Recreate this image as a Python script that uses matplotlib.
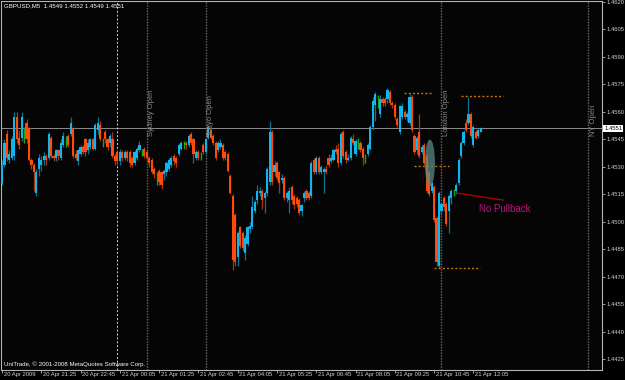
import numpy as np
import matplotlib.pyplot as plt
from matplotlib.patches import Ellipse

BASE = 1.4400
PIP = 0.0001

# GBPUSD M5 bars, values in pips above 1.4400
opens = [121, 131, 148, 134, 135, 136, 157, 146, 146, 146, 154, 151, 134, 131, 116, 129, 131, 134, 136, 135,
         146, 136, 135, 139, 135, 142, 144, 147, 148, 151, 137, 133, 137, 141, 145, 139, 141, 145, 140,
         150, 153, 143, 149, 145, 143, 145, 136, 138, 133, 138, 135, 138, 138, 135, 132, 135, 139, 138, 140,
         138, 135, 134, 129, 124, 128, 127, 126, 127, 129, 131, 136, 135, 137, 140, 142, 143, 142, 148, 145,
         135, 138,
         136, 142, 138, 146, 150, 147, 143, 139, 141, 142, 138, 137, 125, 114, 104, 81, 97, 94, 83, 88,
         96, 97, 106, 112, 116, 117, 113, 116, 122, 149, 127, 132, 127, 123, 124, 113, 112, 119, 114, 113,
         112,
         106, 113, 117, 116, 114, 134, 127, 135, 127, 127, 129, 135, 133, 134, 140, 140, 132, 149, 138, 134,
         135, 145, 137, 143, 143, 140, 134, 137, 140, 152, 164, 165, 159, 167, 167, 167, 171, 165, 164, 156,
         149, 157, 160,
         157, 154, 168, 147, 139, 149, 138, 142, 136, 127, 117, 119, 102, 76, 106, 113, 110, 106, 113, 116,
         117, 121, 136, 143, 154, 154, 159, 142, 149, 147, 149]
highs = [134, 145, 150, 139, 147, 160, 160, 150, 160, 152, 156, 152, 135, 132, 129, 137, 136, 138, 137, 149,
         147, 137, 140, 140, 145, 149, 147, 148, 157, 152, 139, 140, 142, 142, 146, 145, 146, 146, 154,
         157, 155, 146, 150, 146, 148, 149, 137, 139, 140, 139, 139, 139, 139, 136, 139, 141, 144, 140, 141,
         139, 136, 135, 130, 127, 129, 128, 129, 133, 135, 136, 137, 136, 143, 144, 144, 144, 148, 149, 146,
         139, 139,
         138, 143, 146, 153, 153, 148, 144, 144, 145, 143, 139, 138, 126, 115, 105, 95, 98, 95, 93, 98,
         100, 114, 112, 120, 119, 118, 117, 130, 155, 150, 133, 133, 128, 126, 125, 117, 119, 120, 115, 114,
         113,
         110, 117, 118, 117, 133, 135, 136, 136, 131, 130, 131, 137, 137, 140, 142, 143, 149, 150, 139, 137,
         147, 148, 145, 146, 144, 141, 137, 143, 153, 168, 171, 169, 169, 168, 168, 173, 172, 166, 165, 157,
         164, 165, 161,
         160, 170, 169, 148, 147, 159, 142, 143, 137, 128, 122, 120, 103, 117, 111, 114, 111, 115, 118, 118,
         121, 135, 144, 150, 156, 168, 160, 153, 150, 151, 152]
lows = [120, 130, 133, 132, 134, 134, 143, 140, 144, 143, 143, 133, 129, 117, 114, 125, 128, 131, 131, 134,
        135, 133, 133, 134, 134, 141, 141, 141, 147, 135, 134, 131, 136, 137, 136, 137, 140, 139, 139,
        148, 144, 141, 143, 139, 141, 135, 131, 131, 131, 133, 134, 133, 130, 130, 131, 134, 138, 136, 135,
        134, 130, 126, 124, 120, 120, 118, 123, 125, 128, 130, 131, 130, 136, 139, 140, 140, 141, 142, 132,
        134, 134,
        134, 137, 137, 145, 145, 142, 134, 138, 140, 134, 134, 127, 115, 74, 76, 76, 86, 84, 79, 87,
        94, 96, 105, 110, 114, 107, 105, 114, 120, 120, 125, 123, 116, 121, 112, 111, 105, 110, 107, 108,
        104,
        103, 111, 112, 112, 113, 126, 126, 126, 126, 116, 126, 130, 132, 133, 137, 130, 131, 135, 132, 133,
        134, 142, 136, 140, 138, 131, 132, 136, 139, 150, 155, 162, 157, 163, 163, 165, 164, 162, 156, 152,
        148, 156, 156,
        155, 153, 149, 137, 137, 135, 137, 131, 116, 114, 116, 100, 76, 75, 104, 106, 98, 94, 110, 114,
        115, 120, 135, 142, 149, 153, 146, 141, 145, 146, 149]
closes = [131, 143, 135, 137, 145, 157, 145, 142, 157, 146, 145, 134, 131, 127, 127, 135, 134, 136, 134, 148,
          136, 135, 139, 136, 143, 147, 144, 142, 154, 136, 135, 139, 141, 138, 138, 143, 145, 140, 153,
          154, 145, 143, 145, 141, 147, 136, 133, 133, 138, 135, 138, 135, 132, 131, 138, 140, 142, 138, 136,
          135, 132, 127, 126, 124, 122, 120, 128, 132, 134, 135, 133, 132, 142, 143, 142, 142, 147, 143, 137,
          138, 135,
          136, 138, 145, 152, 146, 143, 135, 143, 143, 135, 135, 128, 116, 79, 78, 94, 87, 86, 91, 97,
          98, 108, 111, 117, 117, 112, 116, 129, 149, 122, 131, 124, 121, 124, 113, 116, 117, 112, 109, 110,
          105,
          109, 116, 113, 113, 132, 127, 135, 127, 130, 129, 127, 131, 135, 139, 138, 132, 148, 136, 134, 135,
          146, 143, 144, 143, 139, 135, 134, 142, 152, 166, 170, 165, 167, 165, 165, 172, 165, 164, 157, 153,
          163, 163, 157,
          159, 168, 150, 138, 146, 136, 141, 132, 117, 115, 121, 101, 78, 116, 110, 108, 99, 114, 117, 116,
          120, 134, 143, 149, 150, 159, 147, 152, 146, 150, 151]

time_labels = ["20 Apr 2009", "20 Apr 21:25", "20 Apr 22:45", "21 Apr 00:05", "21 Apr 01:25",
               "21 Apr 02:45", "21 Apr 04:05", "21 Apr 05:25", "21 Apr 06:45", "21 Apr 08:05",
               "21 Apr 09:25", "21 Apr 10:45", "21 Apr 12:05"]
label_step = 16
sessions = {"Sydney Open": 59, "Tokyo Open": 83, "London Open": 179, "NY Open": 239}
day_sep = 47
last_price = 1.4551

o = BASE + np.array(opens) * PIP
h = BASE + np.array(highs) * PIP
l = BASE + np.array(lows) * PIP
c = BASE + np.array(closes) * PIP
x = np.arange(len(o))

UP, DOWN, DOJI = '#12b4ec', '#ff4a0a', '#14a814'
UP_W, DOWN_W = '#0f7194', '#ac360c'

plt.rcParams['font.family'] = ['Liberation Sans', 'DejaVu Sans']
fig = plt.figure(figsize=(6.25, 3.8), dpi=100, facecolor='black')
ax = fig.add_axes([1 / 625, 10 / 380, 601 / 625, 369 / 380], facecolor='#050505')

up = c > o
dn = c < o
eq = c == o
ax.vlines(x[up], l[up], h[up], color=UP_W, lw=0.9, zorder=2)
ax.vlines(x[dn], l[dn], h[dn], color=DOWN_W, lw=0.9, zorder=2)
ax.vlines(x[eq], l[eq], h[eq], color=DOJI, lw=1.0, zorder=2)
ax.bar(x[up], (c - o)[up], bottom=o[up], width=0.88, color=UP, lw=0, zorder=3)
ax.bar(x[dn], (o - c)[dn], bottom=c[dn], width=0.88, color=DOWN, lw=0, zorder=3)

# current price line and day separator
ax.axhline(last_price, color='#8c8c8c', lw=0.7, zorder=1)
ax.axvline(day_sep - 0.2, color='#d8d8d8', lw=0.7, ls=(0, (2, 2)), zorder=1)

for name, pos in sessions.items():
    ax.axvline(pos - 0.1, color='#6a6a6a', lw=1.0, ls=(0, (1, 1)), zorder=1)
    ax.text(pos + 0.5, 1.4620 - 134 * 0.0001 / 1.833, name, rotation=90, ha='left', va='bottom',
            color='#8a8a8a', fontsize=5.5, zorder=4)

# highs / lows around London open
orange = '#c87000'
ax.hlines(BASE + 170.3 * PIP, 163.7, 175.2, color=orange, lw=1, ls=(0, (1.5, 1.5)), zorder=4)
ax.hlines(BASE + 130.4 * PIP, 167.8, 182.0, color=orange, lw=1, ls=(0, (1.5, 1.5)), zorder=4)
ax.hlines(BASE + 168.6 * PIP, 187.0, 204.0, color=orange, lw=1, ls=(0, (1.5, 1.5)), zorder=4)
ax.hlines(BASE + 74.8 * PIP, 176.0, 194.7, color=orange, lw=1, ls=(0, (1.5, 1.5)), zorder=4)

ax.add_patch(Ellipse((174.3, BASE + 132.1 * PIP), 4.1, 25.6 * PIP, facecolor='#5c8686',
                     edgecolor='none', alpha=0.75, zorder=5))
ax.plot([185.3, 204.1], [BASE + 115.7 * PIP, BASE + 111.9 * PIP], color='#b00000', lw=1, zorder=5)
ax.text(194.3, BASE + 107 * PIP, "No Pullback", color='#c2127c', fontsize=7, ha='left', va='center',
        zorder=5)

ax.set_xlim(-0.41, 244.4)
ax.set_ylim(BASE + 19.2 * PIP, BASE + 220.45 * PIP)

for s in ax.spines.values():
    s.set_color('#b4b4b4')
    s.set_linewidth(0.8)

yt = np.arange(1.4425, 1.46201, 0.0015)
ax.yaxis.tick_right()
ax.set_yticks(yt)
ax.set_yticklabels([f"{v:.4f}" for v in yt])
ax.tick_params(axis='y', colors='#b4b4b4', labelcolor='#d0d0d0', labelsize=4.2, length=2, width=0.6, pad=1.5)

xt = np.arange(len(time_labels)) * label_step
ax.set_xticks(xt)
ax.set_xticklabels([])
ax.tick_params(axis='x', colors='#b4b4b4', length=2, width=0.6)
for t, lab in zip(xt, time_labels):
    ax.annotate(lab, xy=(t, 0), xycoords=('data', 'axes fraction'), xytext=(1.2, -1.2),
                textcoords='offset points', ha='left', va='top', fontsize=4.2, color='#d0d0d0',
                annotation_clip=False)

ax.annotate(f"{last_price:.4f}", xy=(1, last_price), xycoords=('axes fraction', 'data'), xytext=(1.5, 0),
            textcoords='offset points', ha='left', va='center', fontsize=4.2, color='black',
            bbox=dict(boxstyle='square,pad=0.2', fc='white', ec='none'), annotation_clip=False)

ax.text(0.005, 0.993, "GBPUSD,M5  1.4549 1.4552 1.4549 1.4551", transform=ax.transAxes,
        ha='left', va='top', fontsize=4.4, color='white')
ax.text(0.005, 0.016, "UniTrade, \u00a9 2001-2008 MetaQuotes Software Corp.", transform=ax.transAxes,
        ha='left', va='center', fontsize=4.4, color='white')

fig.savefig('out.png', dpi=100, facecolor='black')
